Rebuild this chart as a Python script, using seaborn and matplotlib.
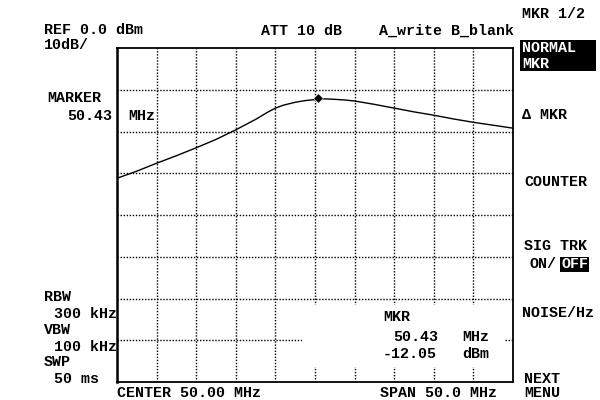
import matplotlib
matplotlib.use("Agg")
import matplotlib.pyplot as plt
from matplotlib.patches import Rectangle
import seaborn as sns
import pandas as pd

# trace (MHz, dBm)
freq_mhz = [25.0, 27.5, 30.0, 32.5, 35.0, 37.5, 40.0, 42.5, 44.0, 45.0, 46.0, 47.5,
            48.75, 50.0, 50.43, 51.5, 52.5, 53.75, 55.0, 57.5, 60.0, 62.5, 65.0,
            67.5, 70.0, 72.5, 75.0]
level_dbm = [-31.2, -29.5, -27.6, -25.8, -23.9, -21.9, -19.6, -17.1, -15.4, -14.4, -13.7, -13.0,
             -12.6, -12.35, -12.2, -12.2, -12.3, -12.45, -12.7, -13.5, -14.4, -15.3, -16.1,
             -17.0, -17.8, -18.5, -19.2]

marker_freq = [50.43]
marker_level = [-12.05]

x_ticks = [25, 30, 35, 40, 45, 50, 55, 60, 65, 70, 75]
y_ticks = [0, -10, -20, -30, -40, -50, -60, -70, -80]

trace = pd.DataFrame({"freq": freq_mhz, "level": level_dbm})
mkr = pd.DataFrame({"freq": marker_freq, "level": marker_level})

sns.set_style("white")
plt.rcParams["font.family"] = ["Liberation Mono", "DejaVu Sans Mono"]
plt.rcParams["font.weight"] = "bold"

fig = plt.figure(figsize=(6, 4), dpi=100)
ax = fig.add_axes([117 / 600, 1 - 382 / 400, 396 / 600, 334 / 400])

# dotted graticule
for xv in x_ticks[1:-1]:
    ax.axvline(xv, color="black", lw=1.0, ls=(0, (1, 1.2)), zorder=1)
for yv in y_ticks[1:-1]:
    ax.axhline(yv, color="black", lw=1.0, ls=(0, (1, 1.2)), zorder=1)

# blank area behind the marker readout
ax.add_patch(Rectangle((48.4, -76.4), 25.6, 14.8, facecolor="white",
                       edgecolor="none", zorder=2))

sns.lineplot(data=trace, x="freq", y="level", ax=ax, color="black", lw=1.0,
             zorder=3, legend=False)
sns.scatterplot(data=mkr, x="freq", y="level", ax=ax, marker="D", s=24,
                color="black", zorder=4, legend=False)

ax.set_xlim(x_ticks[0], x_ticks[-1])
ax.set_ylim(y_ticks[-1], y_ticks[0])
ax.set_xticks([])
ax.set_yticks([])
ax.set_xlabel("")
ax.set_ylabel("")
for side in ax.spines.values():
    side.set_color("black")
    side.set_linewidth(1.3)
ax.spines["left"].set_linewidth(1.8)


def put(x, y, s, color="black"):
    fig.text(x / 600, 1 - y / 400, s, ha="left", va="center",
             fontsize=10.8, fontweight="bold", color=color)


put(44, 30, "REF 0.0 dBm")
put(44, 45, "10dB/")
put(261, 31, "ATT 10 dB")
put(379, 31, "A_write B_blank")

put(47, 98, "MARKER")
put(67, 116, "50.43")
put(128, 116, "MHz")

put(44, 297, "RBW")
put(54, 314, "300 kHz")
put(44, 330, "VBW")
put(54, 347, "100 kHz")
put(44, 362, "SWP")
put(54, 379, "50 ms")

put(117, 393, "CENTER 50.00 MHz")
put(380, 393, "SPAN 50.0 MHz")

put(383, 317, "MKR")
put(393, 337, "50.43")
put(462, 337, "MHz")
put(383, 354, "-12.05")
put(462, 354, "dBm")

# soft key menu
put(522, 14, "MKR 1/2")
fig.patches.append(Rectangle((520 / 600, 1 - 71 / 400), 76 / 600, 31 / 400,
                             transform=fig.transFigure, facecolor="black",
                             edgecolor="none"))
put(522, 48, "NORMAL", color="white")
put(522, 64, "MKR", color="white")
put(522, 115, "Δ MKR")
put(524, 182, "COUNTER")
put(524, 246, "SIG TRK")
put(530, 264, "ON/")
fig.patches.append(Rectangle((560 / 600, 1 - 272 / 400), 29 / 600, 15 / 400,
                             transform=fig.transFigure, facecolor="black",
                             edgecolor="none"))
put(561, 264, "OFF", color="white")
put(522, 313, "NOISE/Hz")
put(524, 379, "NEXT")
put(524, 393, "MENU")

fig.savefig("out.png", dpi=100, facecolor="white")
